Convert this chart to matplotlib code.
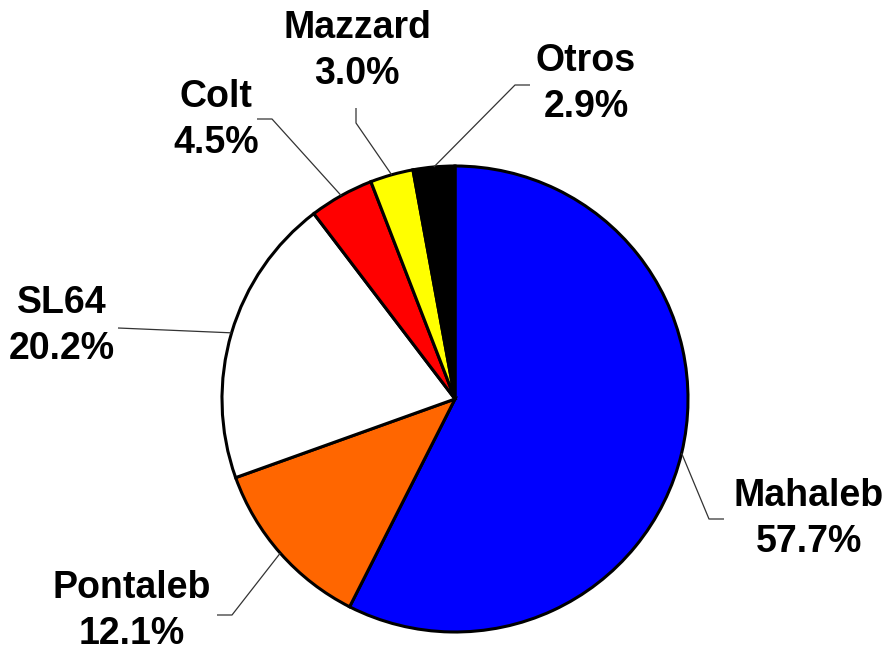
import numpy as np
import matplotlib
matplotlib.use("Agg")
import matplotlib.pyplot as plt

# Data
labels = ["Mahaleb", "Pontaleb", "SL64", "Colt", "Mazzard", "Otros"]
values = [57.7, 12.1, 20.2, 4.5, 3.0, 2.9]
colors = ["#0000FF", "#FF6600", "#FFFFFF", "#FF0000", "#FFFF00", "#000000"]

W, H = 896, 655
fig = plt.figure(figsize=(W / 100, H / 100), dpi=100)
ax = fig.add_axes([0, 0, 1, 1])

def Y(p):
    return H - p

cx, cy, R = 455, Y(399), 233
wedges, _ = ax.pie(values, colors=colors, startangle=90, counterclock=False,
                   center=(cx, cy), radius=R,
                   wedgeprops=dict(edgecolor="black", linewidth=2.2))

# label layout (pixel positions): text center, leader path after the pie edge
layout = {
    "Mahaleb":  dict(text=(809, 519), path=[(709, 519), (724, 519)]),
    "Pontaleb": dict(text=(132, 611), path=[(232, 615), (217, 615)]),
    "SL64":     dict(text=(62, 326),  path=[(118, 328)]),
    "Colt":     dict(text=(216, 120), path=[(272, 119), (257, 119)]),
    "Mazzard":  dict(text=(357, 51),  path=[(356, 123), (356, 108)]),
    "Otros":    dict(text=(586, 84),  path=[(515, 85), (530, 85)]),
}

for w, lab, v in zip(wedges, labels, values):
    ang = np.deg2rad((w.theta1 + w.theta2) / 2)
    ex = cx + R * np.cos(ang)
    ey = cy + R * np.sin(ang)
    L = layout[lab]
    xs = [ex] + [p[0] for p in L["path"]]
    ys = [ey] + [Y(p[1]) for p in L["path"]]
    ax.plot(xs, ys, color="#333333", linewidth=0.9, solid_capstyle="butt")
    tx, ty = L["text"]
    ax.text(tx, Y(ty), f"{lab}\n{v:.1f}%", ha="center", va="center",
            fontsize=27, fontweight="bold", family="Liberation Sans",
            linespacing=1.38, color="black")

ax.set_xlim(0, W)
ax.set_ylim(0, H)
ax.set_aspect("equal")
ax.axis("off")
fig.savefig("out.png", dpi=100)
